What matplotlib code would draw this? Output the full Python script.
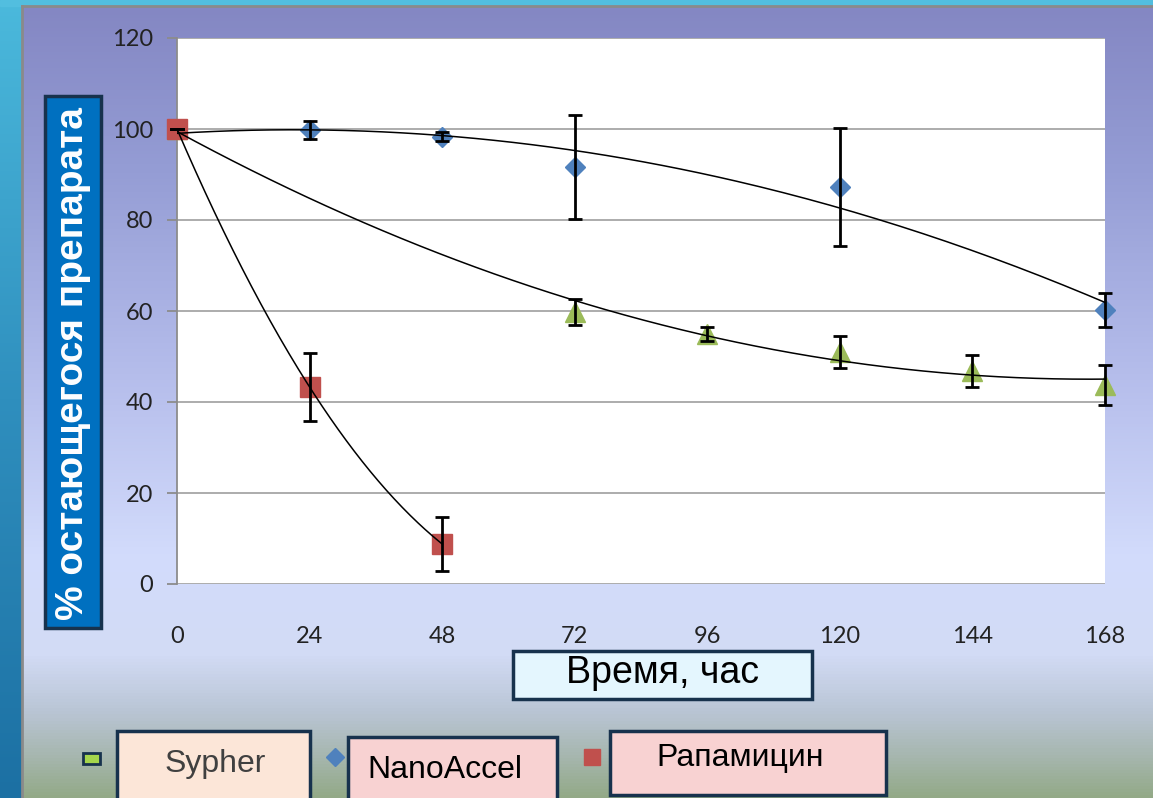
import numpy as np
import matplotlib
matplotlib.use('Agg')
import matplotlib.pyplot as plt
from matplotlib.colors import LinearSegmentedColormap
from matplotlib.patches import Rectangle

# data
hours_nano = [0, 24, 48, 72, 120, 168]
nano = [100, 99.8, 98.3, 91.6, 87.3, 60.2]
nano_err = [0, 2.0, 1.0, 11.4, 13.0, 3.8]

hours_sypher = [0, 72, 96, 120, 144, 168]
sypher = [100, 59.8, 55.0, 51.0, 46.8, 43.7]
sypher_err = [0, 2.8, 1.5, 3.5, 3.5, 4.4]

hours_rapa = [0, 24, 48]
rapa = [100, 43.3, 8.8]
rapa_err = [0, 7.5, 5.9]

x_ticks = [0, 24, 48, 72, 96, 120, 144, 168]
y_ticks = [0, 20, 40, 60, 80, 100, 120]

ylabel = '% остающегося препарата'
xlabel = 'Время, час'
names = ['Sypher', 'NanoAccel', 'Рапамицин']

blue = '#4F81BD'
green = '#9BBB59'
red = '#C0504D'
navy = '#17324D'

W, H = 1153, 798
fig = plt.figure(figsize=(W / 100, H / 100), dpi=100)

# background in pixel coordinates
bg = fig.add_axes([0, 0, 1, 1])
bg.set_xlim(0, W)
bg.set_ylim(H, 0)
bg.axis('off')

panel = LinearSegmentedColormap.from_list('panel', [
    (0.00, '#8487C3'), (0.20, '#949CD4'), (0.45, '#B3BBEA'),
    (0.70, '#D3DCFC'), (0.82, '#D2DBF5'), (0.89, '#BAC6D6'),
    (0.95, '#A6B6AE'), (1.00, '#93A987')])
grad = np.linspace(0, 1, 256).reshape(-1, 1)
bg.imshow(grad, cmap=panel, aspect='auto', extent=(22, W, H, 6), zorder=0)
side = LinearSegmentedColormap.from_list('side', ['#4BB9DC', '#2F8FBE', '#1C70A3'])
bg.imshow(grad, cmap=side, aspect='auto', extent=(0, 22, H, 0), zorder=0)
bg.add_patch(Rectangle((0, 0), W, 6, color='#52BEDF', zorder=1))
bg.plot([22, 22], [6, H], color='#8A8A8A', lw=2, zorder=2)
bg.plot([22, W], [6, 6], color='#8A8A8A', lw=2, zorder=2)

# y label box
bg.add_patch(Rectangle((45, 96), 56, 532, facecolor='#0070C0', edgecolor=navy, lw=2.5, zorder=3))
bg.text(73, 364, ylabel, rotation=90, ha='center', va='center', color='white',
        fontsize=28, fontweight='bold', family=['Liberation Sans', 'DejaVu Sans'], zorder=4)

# x label box
bg.add_patch(Rectangle((513, 651), 299, 48, facecolor='#E4F6FE', edgecolor=navy, lw=2.5, zorder=3))
bg.text(662, 673, xlabel, ha='center', va='center', color='black',
        fontsize=27, family=['Liberation Sans', 'DejaVu Sans'], zorder=4)

# legend boxes
boxes = [(117, 731, 193, 80, '#FCE6D8', '#404040', 215, 764),
         (348, 737, 209, 80, '#F8D2D2', 'black', 445, 770),
         (610, 731, 276, 64, '#F8D2D2', 'black', 740, 758)]
for (bx, by, bw, bh, fc, tc, tx, ty), name in zip(boxes, names):
    bg.add_patch(Rectangle((bx, by), bw, bh, facecolor=fc, edgecolor=navy, lw=2.5, zorder=3))
    bg.text(tx, ty, name, ha='center', va='center', color=tc, fontsize=23,
            family=['Liberation Sans', 'DejaVu Sans'], zorder=4)
bg.add_patch(Rectangle((83, 753), 17, 11, facecolor='#A5D64C', edgecolor=navy, lw=2, zorder=3))
bg.plot([335], [757], marker='D', ms=9, color=blue, mec=blue, zorder=3)
bg.plot([592], [757], marker='s', ms=12, color=red, mec=red, zorder=3)

# main plot
ax = fig.add_axes([177 / W, 1 - 584 / H, (1105 - 177) / W, (584 - 38) / H])
ax.set_facecolor('white')
ax.set_xlim(0, 168)
ax.set_ylim(0, 120)
ax.set_xticks(x_ticks)
ax.set_yticks(y_ticks)
ax.grid(axis='y', color='#A6A6A6', lw=1.3)
ax.set_axisbelow(True)
for s in ['top', 'right', 'bottom']:
    ax.spines[s].set_visible(False)
ax.spines['left'].set_color('#8C8C8C')
ax.spines['left'].set_linewidth(1.3)
ax.tick_params(axis='y', length=7, color='#8C8C8C', width=1.3, pad=10,
               labelsize=17, labelcolor='#222222')
ax.tick_params(axis='x', length=0, pad=30, labelsize=17, labelcolor='#222222')
for lab in ax.get_xticklabels() + ax.get_yticklabels():
    lab.set_family(['Lato', 'DejaVu Sans'])

series = [(hours_sypher, sypher, sypher_err, '^', 15, green),
          (hours_nano, nano, nano_err, 'D', 10.5, blue),
          (hours_rapa, rapa, rapa_err, 's', 14, red)]
for hx, hy, he, mk, ms, col in series:
    ax.plot(hx, hy, ls='none', marker=mk, ms=ms, color=col, mec=col, clip_on=False, zorder=3)
    ax.errorbar(hx, hy, yerr=he, fmt='none', ecolor='black', elinewidth=2,
                capsize=5, capthick=2, clip_on=False, zorder=4)
    # polynomial trendline, as in the source spreadsheet
    coef = np.polyfit(hx, hy, 2)
    xs = np.linspace(hx[0], hx[-1], 200)
    ax.plot(xs, np.polyval(coef, xs), color='black', lw=1.1, zorder=5)

fig.savefig('out.png', dpi=100)
